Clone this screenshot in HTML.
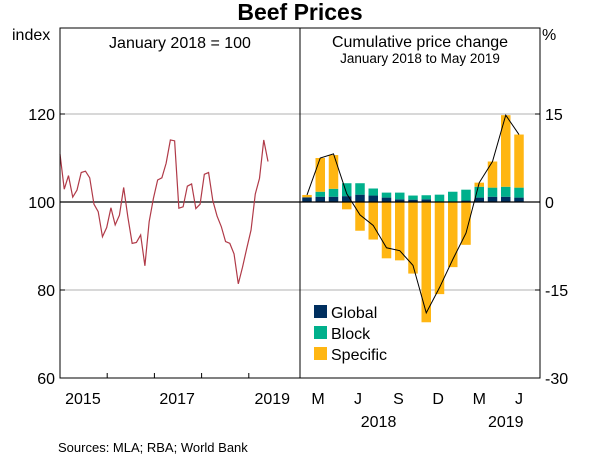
<!DOCTYPE html>
<html><head><meta charset="utf-8"><style>
body{margin:0;background:#fff}
svg{display:block;font-family:"Liberation Sans",Arial,sans-serif}
</style></head><body>
<svg width="600" height="460" viewBox="0 0 600 460">
<text x="300" y="20" text-anchor="middle" font-size="23" font-weight="bold">Beef Prices</text>
<text x="12" y="40" font-size="16">index</text>
<text x="542" y="40" font-size="16">%</text>
<g id="grid"></g>
<g id="bars"></g>
<g id="lines"></g>
<rect x="60" y="28" width="480" height="350" fill="none" stroke="#000" stroke-width="1"/>
<line x1="300" y1="28" x2="300" y2="378" stroke="#000"/>
<text x="180" y="48" text-anchor="middle" font-size="16">January 2018 = 100</text>
<text x="420" y="47" text-anchor="middle" font-size="16">Cumulative price change</text>
<text x="420" y="63" text-anchor="middle" font-size="13.5">January 2018 to May 2019</text>
<g>
<rect x="314" y="305" width="13" height="13" fill="#002f5f"/>
<text x="331" y="318" font-size="16">Global</text>
<rect x="314" y="326" width="13" height="13" fill="#00b08c"/>
<text x="331" y="339" font-size="16">Block</text>
<rect x="314" y="347" width="13" height="13" fill="#ffb612"/>
<text x="331" y="360" font-size="16">Specific</text>
</g>
<g id="axes"></g>
<text x="58" y="452" font-size="13">Sources:   MLA; RBA; World Bank</text>
</svg>
<script>
const leftTicks=[60,80,100,120];
const rightTicks=[-30,-15,0,15];
const rightTickLabels=["-30","-15","0","15"];
const indexValues=[110.9,102.9,106.0,101.1,102.7,106.7,107.0,105.5,99.5,97.8,92.1,94.2,98.7,94.8,97.0,103.3,96.5,90.6,90.8,92.5,85.5,95.5,100.8,105.0,105.5,108.8,114.1,113.9,98.6,98.9,103.6,104.1,98.5,99.5,106.3,106.7,100.3,96.8,94.4,91.0,90.6,88.2,81.4,85.2,89.5,93.6,101.8,105.4,114.1,109.2];
const yearLabels=["2015","2017","2019"];
const yearPos=[5.4,27.6,50];
const globalVals=[0.8,0.9,0.9,1.0,1.25,1.1,0.75,0.45,0.4,0.45,0,0,0.25,0.75,0.9,0.9,0.75];
const blockVals=[0,0.85,1.35,2.2,1.95,1.2,0.85,1.15,0.7,0.7,1.25,1.75,1.85,1.85,1.55,1.7,1.7];
const specificVals=[0.4,5.75,5.75,-1.25,-4.9,-6.4,-9.6,-9.95,-12.2,-20.5,-15.7,-11.1,-7.3,0.7,4.45,12.2,9.05];
const totalVals=[1.2,7.5,8.2,1.4,-2.2,-4.0,-7.8,-8.3,-10.8,-18.9,-14.6,-9.8,-5.3,3.3,6.9,14.8,11.5];
const monthLabels=["M","J","S","D","M","J"];
const monthPos=[0.83,3.85,6.9,9.9,13,16];
const yearRow=["2018","2019"];
const yearRowPos=[5.4,15];

const NS="http://www.w3.org/2000/svg";
function mk(p,t,a){const e=document.createElementNS(NS,t);for(const k in a)e.setAttribute(k,a[k]);p.appendChild(e);return e;}
const yL=v=>378-(v-60)*4.4;
const yR=v=>202-v*88/15;
const xL=i=>60+i*4.245;
const xR=i=>307+i*13.25;
const grid=document.getElementById('grid'),bars=document.getElementById('bars'),lines=document.getElementById('lines'),axes=document.getElementById('axes');

leftTicks.forEach(v=>{
  if(v!==60&&v!==100){const g=mk(grid,'line',{x1:60,x2:540,y1:yL(v),y2:yL(v),stroke:'#b0b0b0'});
  
  }
  const t=mk(axes,'text',{x:55,y:yL(v)+6,'text-anchor':'end','font-size':16});t.textContent=v;
  
  
  mk(axes,'line',{x1:60,x2:65,y1:yL(v),y2:yL(v),stroke:'#000'});
});
rightTicks.forEach((v,i)=>{
  const t=mk(axes,'text',{x:545,y:yR(v)+6,'font-size':16});t.textContent=rightTickLabels[i];
  
  
  mk(axes,'line',{x1:535,x2:540,y1:yR(v),y2:yR(v),stroke:'#000'});
});

const bw=9.5;
globalVals.forEach((g,i)=>{
  const x=xR(i)-bw/2;
  const b=blockVals[i],s=specificVals[i];
  const r1=mk(bars,'rect',{x:x,width:bw,y:yR(g),height:yR(0)-yR(g),fill:'#002f5f'});
  
  
  const r2=mk(bars,'rect',{x:x,width:bw,y:yR(g+b),height:yR(g)-yR(g+b),fill:'#00b08c'});
  
  
  let r3;
  if(s>=0) r3=mk(bars,'rect',{x:x,width:bw,y:yR(g+b+s),height:yR(g+b)-yR(g+b+s),fill:'#ffb612'});
  else r3=mk(bars,'rect',{x:x,width:bw,y:yR(0),height:yR(s)-yR(0),fill:'#ffb612'});
  
  
});
const zl=mk(lines,'line',{x1:60,x2:540,y1:yR(0),y2:yR(0),stroke:'#000','stroke-width':1.2});


const pl=mk(lines,'polyline',{points:indexValues.map((v,i)=>xL(i)+','+yL(v)).join(' '),fill:'none',stroke:'#b03a48','stroke-width':1.2});


const tl=mk(lines,'polyline',{points:totalVals.map((v,i)=>xR(i)+','+yR(v)).join(' '),fill:'none',stroke:'#000','stroke-width':1});



yearLabels.forEach((l,i)=>{
  const t=mk(axes,'text',{x:xL(yearPos[i]),y:404,'text-anchor':'middle','font-size':16});t.textContent=l;
  
  
});
[1,2,3,4].forEach(k=>{const x=60+k*47.2;mk(axes,'line',{x1:x,x2:x,y1:373,y2:378,stroke:'#000'});});
monthLabels.forEach((l,i)=>{
  const t=mk(axes,'text',{x:xR(monthPos[i]),y:404,'text-anchor':'middle','font-size':16});t.textContent=l;
  
  
});
yearRow.forEach((l,i)=>{
  const t=mk(axes,'text',{x:xR(yearRowPos[i]),y:427,'text-anchor':'middle','font-size':16});t.textContent=l;
  
  
});
</script>
</body></html>
